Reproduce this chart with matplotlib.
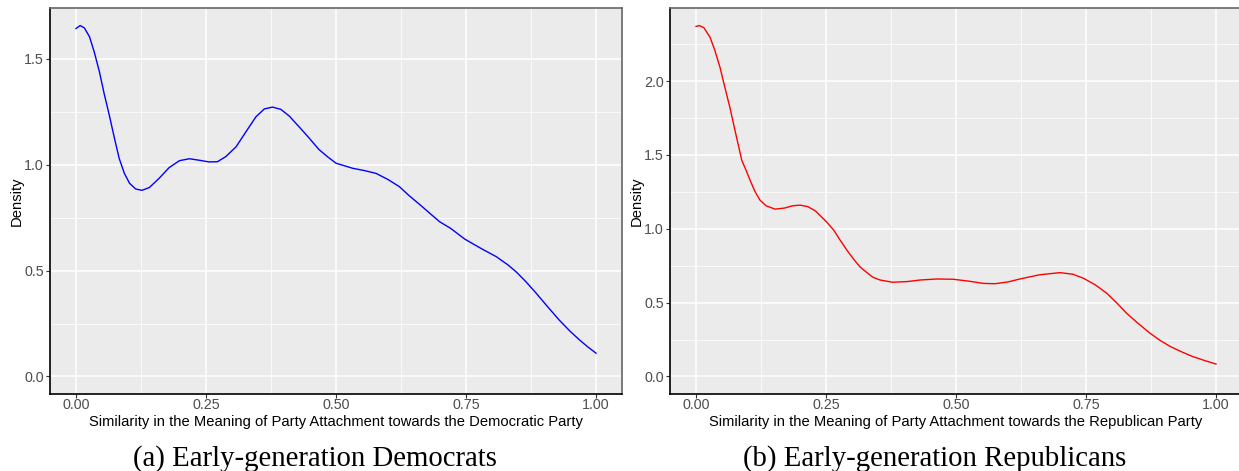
import matplotlib
matplotlib.use("Agg")
import matplotlib.pyplot as plt
from matplotlib.ticker import MultipleLocator

# ---- data ----
dem_x = [0.000, 0.008, 0.016, 0.026, 0.035, 0.045, 0.054, 0.064, 0.074, 0.083, 0.093, 0.103,
         0.115, 0.127, 0.141, 0.160, 0.179, 0.199, 0.218, 0.237, 0.256, 0.272, 0.288, 0.308,
         0.327, 0.346, 0.362, 0.378, 0.394, 0.410, 0.429, 0.449, 0.467, 0.485, 0.500, 0.532,
         0.555, 0.577, 0.600, 0.622, 0.640, 0.660, 0.699, 0.720, 0.748, 0.780, 0.808, 0.830,
         0.846, 0.865, 0.885, 0.905, 0.929, 0.950, 0.968, 0.985, 1.000]
dem_y = [1.643, 1.657, 1.646, 1.604, 1.533, 1.439, 1.337, 1.234, 1.124, 1.030, 0.959, 0.912,
         0.885, 0.879, 0.892, 0.936, 0.986, 1.019, 1.028, 1.021, 1.013, 1.014, 1.038, 1.085,
         1.156, 1.226, 1.263, 1.272, 1.261, 1.230, 1.179, 1.124, 1.072, 1.035, 1.007, 0.983,
         0.972, 0.959, 0.930, 0.896, 0.855, 0.814, 0.731, 0.700, 0.648, 0.603, 0.566, 0.528,
         0.495, 0.448, 0.393, 0.335, 0.267, 0.214, 0.173, 0.138, 0.110]

rep_x = [0.000, 0.006, 0.015, 0.027, 0.036, 0.046, 0.055, 0.065, 0.076, 0.088, 0.097, 0.104,
         0.113, 0.123, 0.135, 0.152, 0.170, 0.185, 0.200, 0.215, 0.230, 0.251, 0.265, 0.277,
         0.290, 0.303, 0.315, 0.328, 0.340, 0.354, 0.378, 0.405, 0.431, 0.463, 0.495, 0.525,
         0.553, 0.575, 0.600, 0.623, 0.660, 0.700, 0.725, 0.745, 0.768, 0.790, 0.810, 0.828,
         0.850, 0.873, 0.892, 0.912, 0.935, 0.955, 0.978, 1.000]
rep_y = [2.370, 2.376, 2.362, 2.297, 2.210, 2.095, 1.965, 1.824, 1.650, 1.464, 1.390, 1.329,
         1.255, 1.194, 1.155, 1.133, 1.140, 1.155, 1.160, 1.150, 1.120, 1.047, 0.990, 0.924,
         0.856, 0.795, 0.743, 0.705, 0.672, 0.653, 0.638, 0.642, 0.653, 0.660, 0.658, 0.645,
         0.630, 0.628, 0.640, 0.660, 0.688, 0.703, 0.692, 0.665, 0.620, 0.563, 0.495, 0.428,
         0.360, 0.293, 0.245, 0.203, 0.165, 0.135, 0.108, 0.084]

x_ticks = [0.00, 0.25, 0.50, 0.75, 1.00]
x_ticklabels = ["0.00", "0.25", "0.50", "0.75", "1.00"]
dem_yticks = [0.0, 0.5, 1.0, 1.5]
rep_yticks = [0.0, 0.5, 1.0, 1.5, 2.0]
dem_xlabel = "Similarity in the Meaning of Party Attachment towards the Democratic Party"
rep_xlabel = "Similarity in the Meaning of Party Attachment towards the Republican Party"
captions = ["(a) Early-generation Democrats", "(b) Early-generation Republicans"]

W, H = 1239, 471
fig = plt.figure(figsize=(W / 100, H / 100), dpi=100)
plt.rcParams['font.family'] = ['Liberation Sans', 'DejaVu Sans']
plt.rcParams['lines.solid_joinstyle'] = 'round'


def px_axes(left, top, right, bottom):
    return fig.add_axes([left / W, 1 - bottom / H, (right - left) / W, (bottom - top) / H])


def style(ax, yticks, ymax, xlabel):
    ax.set_facecolor("#EBEBEB")
    ax.set_xlim(-0.05, 1.05)
    ax.set_ylim(-0.05 * ymax, 1.05 * ymax)
    ax.set_xticks(x_ticks)
    ax.set_xticklabels(x_ticklabels)
    ax.set_yticks(yticks)
    ax.set_yticklabels([f"{v:.1f}" for v in yticks])
    ax.xaxis.set_minor_locator(MultipleLocator(0.125))
    ax.yaxis.set_minor_locator(MultipleLocator(0.25))
    ax.grid(which="major", color="white", linewidth=1.1)
    ax.grid(which="minor", color="white", linewidth=0.55)
    ax.set_axisbelow(True)
    ax.tick_params(which="major", length=2.75, width=0.8, color="#333333",
                   labelcolor="#4D4D4D", labelsize=10.3)
    ax.tick_params(axis="x", which="major", pad=0.3)
    ax.tick_params(axis="y", which="major", pad=1.5)
    ax.tick_params(which="minor", length=0)
    for s in ("top", "right"):
        ax.spines[s].set_color("#666666")
        ax.spines[s].set_linewidth(1.2)
    for s in ("left", "bottom"):
        ax.spines[s].set_color("black")
        ax.spines[s].set_linewidth(1.2)
    ax.set_xlabel(xlabel, fontsize=10.6, color="black", va="baseline")
    ax.xaxis.set_label_coords(0.5, -32 / 386)
    ax.set_ylabel("Density", fontsize=10.6, color="black", va="center")
    ax.yaxis.set_label_coords(-33 / 572, 0.5)


ax1 = px_axes(50, 8, 622, 394)
ax1.plot(dem_x, dem_y, color="blue", linewidth=1.0)
style(ax1, dem_yticks, max(dem_y), dem_xlabel)

ax2 = px_axes(670, 8, 1242, 394)
ax2.plot(rep_x, rep_y, color="red", linewidth=1.0)
style(ax2, rep_yticks, max(rep_y), rep_xlabel)

fig.text(315 / W, 5 / H, captions[0], ha="center", va="baseline",
         fontsize=20.7, family=["Liberation Serif", "DejaVu Serif"])
fig.text(935 / W, 5 / H, captions[1], ha="center", va="baseline",
         fontsize=20.7, family=["Liberation Serif", "DejaVu Serif"])

fig.savefig("out.png", dpi=100, facecolor="white")
